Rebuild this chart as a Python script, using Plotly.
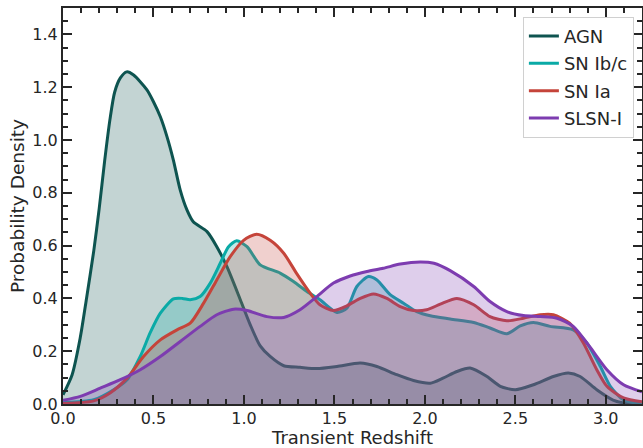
import plotly.graph_objects as go

# ---- data ----
agn_z = [0.0, 0.05, 0.095, 0.13, 0.17, 0.2, 0.23, 0.26, 0.285, 0.317, 0.352, 0.39, 0.464, 0.50,
         0.538, 0.575, 0.61, 0.648, 0.685, 0.72, 0.796, 0.85, 0.906, 0.98, 1.035, 1.09, 1.145, 1.22,
         1.31, 1.403, 1.514, 1.643, 1.735, 1.845, 1.937, 2.03, 2.1, 2.177, 2.25, 2.343, 2.417, 2.5,
         2.6, 2.71, 2.793, 2.858, 2.95, 3.04, 3.1, 3.2]
agn_d = [0.035, 0.11, 0.25, 0.40, 0.58, 0.74, 0.92, 1.08, 1.18, 1.235, 1.258, 1.246, 1.19, 1.145,
         1.088, 1.012, 0.924, 0.81, 0.735, 0.69, 0.653, 0.596, 0.52, 0.395, 0.30, 0.22, 0.18, 0.145,
         0.139, 0.134, 0.142, 0.155, 0.142, 0.111, 0.089, 0.079, 0.098, 0.123, 0.136, 0.104, 0.067, 0.054,
         0.073, 0.104, 0.117, 0.104, 0.054, 0.015, 0.004, 0.0]

ibc_z = [0.0, 0.17, 0.28, 0.354, 0.427, 0.482, 0.538, 0.61, 0.66, 0.703, 0.758, 0.814, 0.869, 0.915,
         0.96, 1.017, 1.09, 1.2, 1.274, 1.348, 1.42, 1.514, 1.569, 1.624, 1.688, 1.735, 1.808, 1.882,
         1.955, 2.03, 2.14, 2.27, 2.36, 2.453, 2.527, 2.6, 2.692, 2.82, 2.895, 2.97, 3.025, 3.098, 3.2]
ibc_d = [0.005, 0.016, 0.054, 0.092, 0.18, 0.27, 0.344, 0.398, 0.40, 0.395, 0.407, 0.458, 0.533, 0.596,
         0.618, 0.596, 0.527, 0.496, 0.464, 0.426, 0.395, 0.347, 0.363, 0.445, 0.483, 0.47, 0.414, 0.382,
         0.35, 0.334, 0.322, 0.309, 0.288, 0.266, 0.296, 0.309, 0.294, 0.281, 0.231, 0.142, 0.067, 0.015, 0.0]

ia_z = [0.0, 0.17, 0.26, 0.354, 0.445, 0.538, 0.63, 0.703, 0.777, 0.85, 0.924, 0.998, 1.07, 1.145,
        1.22, 1.29, 1.366, 1.42, 1.495, 1.569, 1.643, 1.716, 1.79, 1.864, 1.937, 2.01, 2.085, 2.177,
        2.27, 2.36, 2.453, 2.545, 2.637, 2.71, 2.80, 2.876, 2.95, 3.006, 3.098, 3.2]
ia_d = [0.002, 0.012, 0.042, 0.098, 0.18, 0.243, 0.281, 0.306, 0.382, 0.47, 0.558, 0.62, 0.643, 0.62,
        0.571, 0.496, 0.42, 0.376, 0.354, 0.372, 0.40, 0.417, 0.40, 0.369, 0.354, 0.357, 0.378, 0.40,
        0.376, 0.331, 0.315, 0.325, 0.338, 0.338, 0.306, 0.231, 0.13, 0.067, 0.023, 0.008]

slsn_z = [0.0, 0.096, 0.206, 0.317, 0.427, 0.538, 0.648, 0.758, 0.85, 0.943, 1.017, 1.127, 1.22, 1.31,
          1.403, 1.495, 1.587, 1.68, 1.77, 1.864, 1.974, 2.05, 2.14, 2.27, 2.36, 2.453, 2.545, 2.637,
          2.73, 2.82, 2.91, 3.006, 3.098, 3.2]
slsn_d = [0.014, 0.029, 0.06, 0.092, 0.13, 0.18, 0.237, 0.294, 0.338, 0.359, 0.354, 0.331, 0.328, 0.357,
          0.407, 0.458, 0.485, 0.502, 0.514, 0.53, 0.538, 0.533, 0.505, 0.445, 0.388, 0.35, 0.335, 0.331,
          0.325, 0.294, 0.218, 0.13, 0.073, 0.046]

names = ["AGN", "SN Ib/c", "SN Ia", "SLSN-I"]
colors = ["#0e5450", "#0aaaa6", "#c5443a", "#7d3cb0"]
fills = ["rgba(14,84,80,0.25)", "rgba(10,170,166,0.25)", "rgba(197,68,58,0.25)", "rgba(125,60,176,0.25)"]
series = [(agn_z, agn_d), (ibc_z, ibc_d), (ia_z, ia_d), (slsn_z, slsn_d)]

fig = go.Figure()
for i, (name, (zz, dd)) in enumerate(zip(names, series)):
    fig.add_trace(go.Scatter(
        x=zz, y=dd, name=name, mode="lines", showlegend=False,
        line=dict(color=colors[i], width=3, shape="spline", smoothing=0.7),
        fill="tozeroy", fillcolor=fills[i], legendgroup=name,
    ))
# line-only legend entries
for i, name in enumerate(names):
    fig.add_trace(go.Scatter(
        x=[None], y=[None], name=name, mode="lines",
        line=dict(color=colors[i], width=3), legendgroup=name, showlegend=True,
    ))

axis_col = "#262626"
common = dict(showline=True, linecolor=axis_col, linewidth=2.2, mirror="ticks",
              ticks="inside", ticklen=9, tickwidth=2, tickcolor=axis_col,
              showgrid=False, zeroline=False, automargin=False,
              tickfont=dict(family="DejaVu Sans", size=16, color=axis_col))

fig.update_xaxes(range=[0, 3.2], dtick=0.5, tick0=0, tickformat=".1f", ticklabelstandoff=-1,
                 minor=dict(dtick=0.1, ticks="inside", ticklen=5, tickwidth=1.5, tickcolor=axis_col),
                 title=dict(text="Transient Redshift", font=dict(family="DejaVu Sans", size=18, color=axis_col), standoff=9),
                 **common)
fig.update_yaxes(range=[0, 1.5], dtick=0.2, tick0=0, tickformat=".1f",
                 minor=dict(dtick=0.05, ticks="inside", ticklen=5, tickwidth=1.5, tickcolor=axis_col),
                 title=dict(text="Probability Density", font=dict(family="DejaVu Sans", size=18.5, color=axis_col), standoff=3),
                 **common)

fig.update_layout(
    width=643, height=448,
    margin=dict(l=63, r=1, t=8, b=44),
    paper_bgcolor="white", plot_bgcolor="white",
    font=dict(family="DejaVu Sans", color=axis_col),
    legend=dict(x=0.986, y=0.978, xanchor="right", yanchor="top",
                bgcolor="rgba(255,255,255,0.85)", bordercolor="#d0d0d0", borderwidth=1,
                font=dict(family="DejaVu Sans", size=18, color=axis_col),
                tracegroupgap=1),
    showlegend=True,
)

fig.write_html("out.html")
